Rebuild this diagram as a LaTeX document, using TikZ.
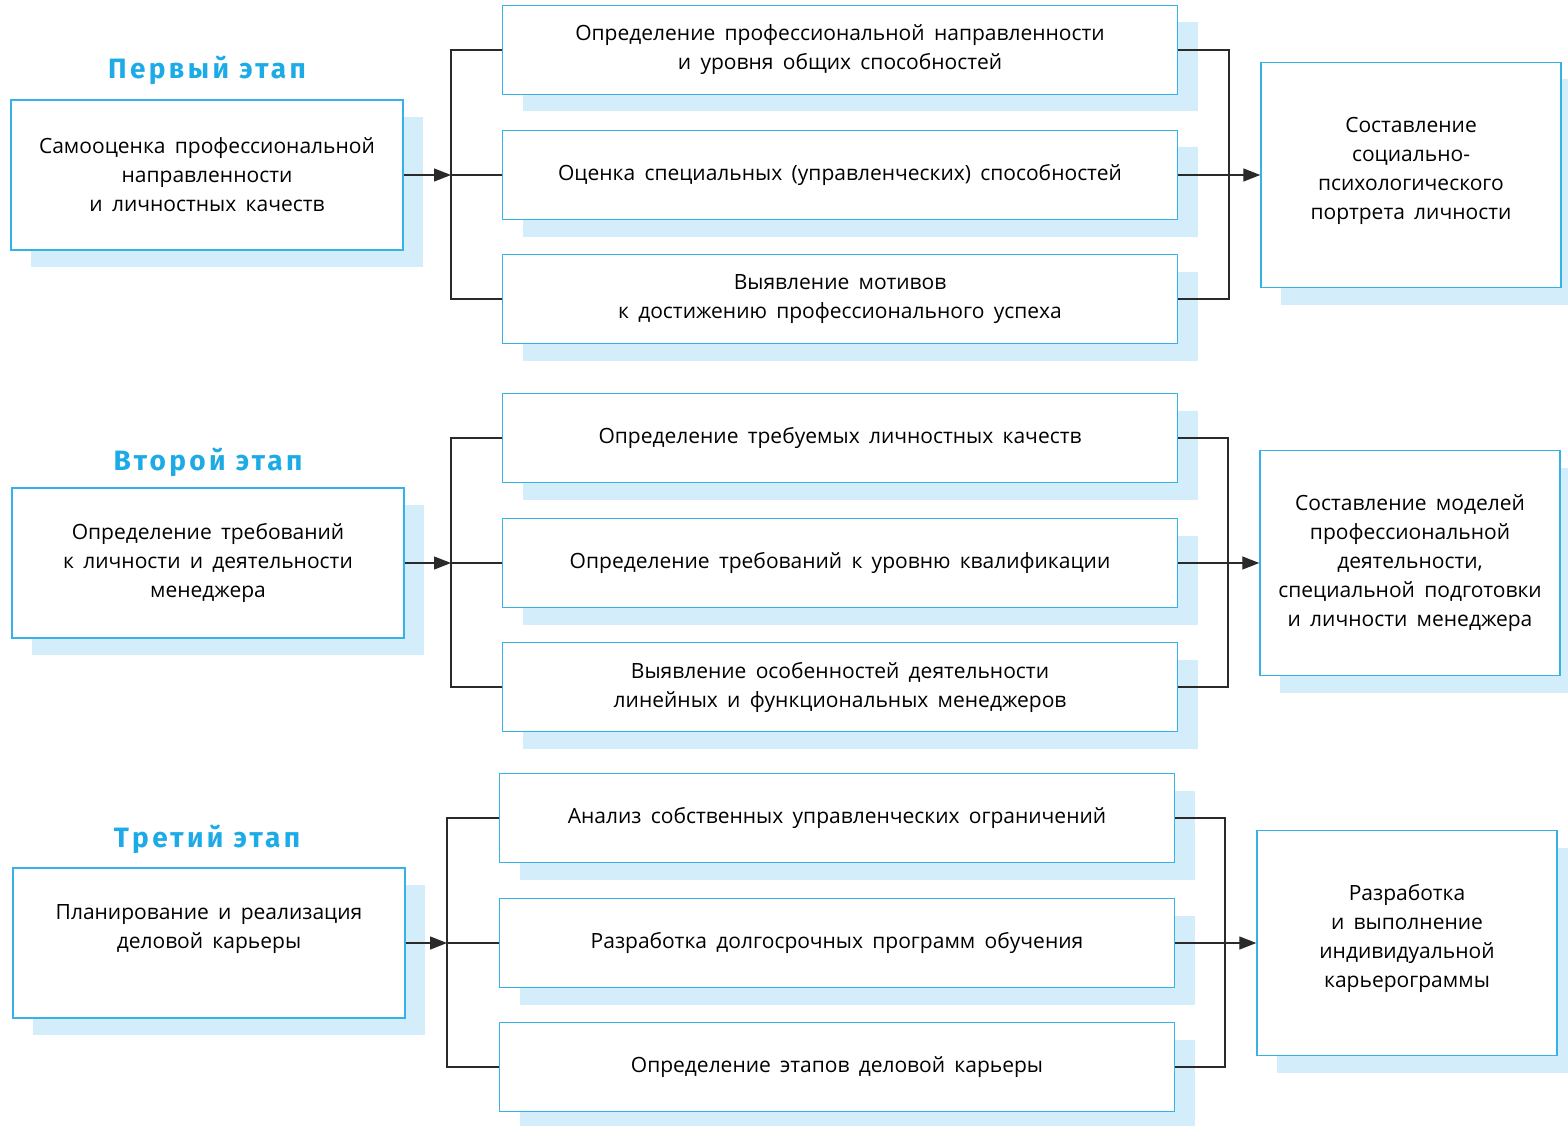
\documentclass[tikz,border=0pt]{standalone}
\usepackage{fontspec}
\setmainfont[WordSpace={1.7,1,1}]{Open Sans}
\newfontfamily\stagefont[LetterSpace=12]{Fira Sans}
\usepackage{xcolor}
\usetikzlibrary{positioning,arrows.meta,shadows}
\definecolor{stageblue}{HTML}{1CABE6}
\definecolor{boxline}{HTML}{35B3E8}
\definecolor{shadeblue}{HTML}{D3EEFA}
\definecolor{lineink}{HTML}{2A2A2A}

\begin{document}
\begin{tikzpicture}[
  x=1pt,y=-1pt,
  font=\fontsize{21}{29}\selectfont,
  box/.style={draw=boxline,fill=white,line width=1.4pt,align=center,inner sep=4pt,
              general shadow={fill=shadeblue,shadow xshift=20pt,shadow yshift=-17pt}},
  src/.style={box,minimum width=392pt,minimum height=150pt},
  mid/.style={box,minimum width=675pt,minimum height=89pt},
  res/.style={box,minimum width=300pt,minimum height=225pt},
  stage/.style={text=stageblue,font=\stagefont\bfseries\fontsize{28}{30}\selectfont},
  arr/.style={-{Triangle[length=17pt,width=13pt]},lineink,line width=1.3pt},
  brk/.style={lineink,line width=1.3pt}
]
\useasboundingbox (0,0) rectangle (1568,1126);

% stage 1: self-assessment
\node[stage] (t1) at (207,70) {Первый этап};
\node[src] (s1) at (207,175) {Самооценка профессиональной\\ направленности\\ и личностных качеств};
\node[mid] (a1) at (840,50) {Определение профессиональной направленности\\ и уровня общих способностей};
\node[mid] (a2) at (840,175) {Оценка специальных (управленческих) способностей};
\node[mid] (a3) at (840,299) {Выявление мотивов\\ к достижению профессионального успеха};
\node[res] (p1) at (1411,175) {Составление\\ социально-\\ психологического\\ портрета личности\\[-15pt]};
\coordinate (jl1) at (451,175);
\coordinate (jr1) at (1229,175);

\draw[arr] (s1.east) -- (jl1);
\draw[brk] (a1.west) -| (jl1) |- (a3.west);
\draw[brk] (jl1) -- (a2.west);
\draw[brk] (a1.east) -| (jr1) |- (a3.east);
\draw[brk] (a2.east) -- (jr1);
\draw[arr] (jr1) -- (p1.west);

% stage 2: requirements to the manager
\node[stage] (t2) at (208,462) {Второй этап};
\node[src] (s2) at (208,563) {Определение требований\\ к личности и деятельности\\ менеджера};
\node[mid] (b1) at (840,438) {Определение требуемых личностных качеств};
\node[mid] (b2) at (840,563) {Определение требований к уровню квалификации};
\node[mid] (b3) at (840,687) {Выявление особенностей деятельности\\ линейных и функциональных менеджеров};
\node[res] (p2) at (1410,563) {Составление моделей\\ профессиональной\\ деятельности,\\ специальной подготовки\\ и личности менеджера};
\coordinate (jl2) at (451,563);
\coordinate (jr2) at (1228,563);

\draw[arr] (s2.east) -- (jl2);
\draw[brk] (b1.west) -| (jl2) |- (b3.west);
\draw[brk] (jl2) -- (b2.west);
\draw[brk] (b1.east) -| (jr2) |- (b3.east);
\draw[brk] (b2.east) -- (jr2);
\draw[arr] (jr2) -- (p2.west);

% stage 3: career planning
\node[stage] (t3) at (207,839) {Третий этап};
\node[src] (s3) at (209,943) {Планирование и реализация\\ деловой карьеры\\[5pt]};
\node[mid] (c1) at (837,818) {Анализ собственных управленческих ограничений};
\node[mid] (c2) at (837,943) {Разработка долгосрочных программ обучения};
\node[mid] (c3) at (837,1067) {Определение этапов деловой карьеры};
\node[res] (p3) at (1407,943) {Разработка\\ и выполнение\\ индивидуальной\\ карьерограммы\\[-15pt]};
\coordinate (jl3) at (447,943);
\coordinate (jr3) at (1225,943);

\draw[arr] (s3.east) -- (jl3);
\draw[brk] (c1.west) -| (jl3) |- (c3.west);
\draw[brk] (jl3) -- (c2.west);
\draw[brk] (c1.east) -| (jr3) |- (c3.east);
\draw[brk] (c2.east) -- (jr3);
\draw[arr] (jr3) -- (p3.west);
\end{tikzpicture}
\end{document}
